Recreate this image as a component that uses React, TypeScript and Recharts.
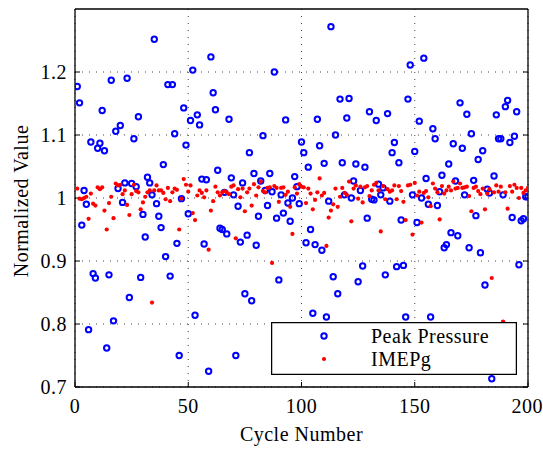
import React from "react";
import { ScatterChart, Scatter, XAxis, YAxis, CartesianGrid, Legend } from "recharts";

const seriesNames = ["Peak Pressure", "IMEPg"];
const xTicks = [0, 50, 100, 150, 200];
const yTicks = [0.7, 0.8, 0.9, 1, 1.1, 1.2];

const peakPressure = [
  1.177, 1.151, 0.957, 1.012, 0.990, 0.791, 1.089, 0.880, 0.873, 1.079,
  1.087, 1.139, 1.075, 0.762, 0.878, 1.187, 0.805, 1.106, 1.015, 1.115,
  0.993, 1.024, 1.190, 0.842, 1.023, 1.094, 1.018, 1.129, 0.874, 0.974,
  0.938, 1.033, 1.024, 1.005, 1.252, 0.991, 0.971, 0.953, 1.053, 0.907,
  1.180, 0.876, 1.180, 1.102, 0.928, 0.750, 0.999, 1.143, 1.084, 0.975,
  1.123, 1.203, 0.814, 1.132, 1.116, 1.030, 0.927, 1.029, 0.725, 1.224,
  1.167, 1.140, 1.044, 0.952, 0.950, 1.009, 0.943, 1.125, 1.032, 1.005,
  0.750, 0.987, 0.930, 1.024, 0.848, 0.941, 1.072, 0.837, 1.039, 0.925,
  0.971, 1.027, 1.099, 1.012, 0.988, 1.039, 1.010, 1.200, 0.968, 0.870,
  1.005, 0.976, 1.124, 0.992, 0.963, 1.000, 1.034, 1.018, 0.991, 1.089,
  1.072, 0.929, 1.049, 0.950, 0.817, 0.926, 1.125, 1.083, 0.917, 1.055,
  0.811, 0.995, 1.272, 0.875, 1.100, 0.848, 1.157, 1.056, 1.005, 1.127,
  1.158, 1.000, 1.027, 1.054, 0.867, 1.012, 0.892, 1.049, 0.968, 1.137,
  0.998, 0.997, 1.123, 1.022, 1.005, 1.016, 0.878, 1.134, 0.995, 1.072,
  1.088, 0.891, 1.056, 0.965, 0.893, 0.811, 1.157, 1.211, 1.005, 1.074,
  0.961, 1.122, 1.000, 1.222, 1.031, 0.990, 0.811, 1.110, 1.094, 0.988,
  1.010, 1.036, 0.921, 0.926, 1.054, 0.945, 1.086, 1.027, 0.940, 1.151,
  1.079, 1.005, 1.133, 0.921, 1.102, 1.028, 0.972, 1.061, 0.913, 1.075,
  0.862, 1.014, 1.008, 0.713, 1.035, 1.132, 1.094, 1.094, 1.005, 1.145,
  1.155, 1.088, 0.969, 1.098, 1.137, 0.894, 0.964, 0.967, 1.002, 1.002,
];

const imepg = [
  1.015, 0.999, 0.998, 1.000, 1.002, 0.967, 1.007, 0.991, 0.988, 1.017,
  1.014, 1.017, 0.980, 0.950, 0.992, 1.002, 0.968, 1.023, 1.020, 1.021,
  1.006, 1.012, 0.989, 0.973, 1.006, 1.021, 1.011, 1.009, 0.982, 0.993,
  1.002, 1.009, 1.012, 0.834, 1.012, 1.020, 1.012, 1.012, 1.008, 0.998,
  1.016, 0.995, 1.009, 1.015, 1.013, 0.950, 0.999, 1.030, 1.021, 1.010,
  1.020, 0.976, 0.965, 1.004, 1.012, 1.008, 1.001, 1.012, 0.918, 0.980,
  0.995, 1.018, 1.009, 1.004, 1.009, 1.011, 1.009, 1.006, 1.018, 1.020,
  0.936, 1.014, 1.001, 1.015, 0.979, 1.009, 1.015, 0.988, 1.022, 1.004,
  1.017, 1.026, 1.011, 1.009, 1.016, 1.017, 0.897, 1.019, 1.016, 0.994,
  1.016, 1.017, 1.005, 1.010, 0.986, 0.943, 1.017, 1.007, 1.022, 1.018,
  1.017, 0.992, 1.015, 1.007, 0.982, 0.997, 1.009, 1.031, 1.004, 1.008,
  0.924, 0.969, 0.980, 0.990, 1.015, 0.986, 1.002, 1.016, 1.008, 1.005,
  1.026, 0.963, 1.015, 1.020, 0.999, 1.018, 0.993, 1.017, 1.019, 1.003,
  1.012, 1.021, 1.024, 1.012, 0.947, 1.019, 0.998, 1.014, 1.010, 1.012,
  1.020, 0.998, 1.019, 1.011, 0.994, 0.965, 1.020, 1.021, 0.942, 1.024,
  1.004, 1.010, 0.961, 1.008, 1.011, 1.001, 0.987, 1.023, 1.015, 1.009,
  0.966, 1.019, 1.007, 1.012, 1.018, 1.012, 1.026, 1.015, 1.016, 1.023,
  1.016, 1.017, 1.018, 1.003, 0.979, 1.016, 1.018, 1.011, 1.006, 1.015,
  0.982, 1.007, 1.014, 0.873, 1.009, 1.020, 1.010, 1.018, 0.804, 1.009,
  0.983, 1.019, 1.010, 1.021, 1.016, 1.000, 1.016, 1.008, 1.012, 1.016,
];

const peakData = peakPressure.map((v, i) => ({ cycle: i + 1, value: v }));
const imepData = imepg.map((v, i) => ({ cycle: i + 1, value: v }));

const FONT = "'Liberation Serif', 'Times New Roman', Times, 'DejaVu Serif', serif";
const BLUE = "#0000ff";
const RED = "#ff0000";

const textStyle = { fontFamily: FONT, fontSize: 20, letterSpacing: "0.5px" };
const tickStyle = { fill: "#000", style: textStyle };

const BlueRing = (p: any) => (
  <circle cx={p.cx} cy={p.cy} r={2.7} fill="none" stroke={BLUE} strokeWidth={2} />
);
const RedDot = (p: any) => <circle cx={p.cx} cy={p.cy} r={2.1} fill={RED} />;

const renderLegend = () => (
  <svg width={246} height={53} style={{ display: "block" }}>
    <rect x={0.6} y={0.6} width={244.8} height={51.8} fill="#fff" stroke="#000" strokeWidth={1.3} />
    <circle cx={53} cy={14} r={2.7} fill="none" stroke={BLUE} strokeWidth={2} />
    <text x={100} y={21} style={textStyle} fill="#000">
      {seriesNames[0]}
    </text>
    <circle cx={53} cy={37} r={2.1} fill={RED} />
    <text x={100} y={43.5} style={textStyle} fill="#000">
      {seriesNames[1]}
    </text>
  </svg>
);

const yLabel = (props: any) => {
  const vb = props.viewBox || { x: 0, y: 9, width: 75, height: 378 };
  const cx = vb.x + 21;
  const cy = vb.y + vb.height / 2 + 3;
  return (
    <text
      x={cx}
      y={cy}
      transform={`rotate(-90 ${cx} ${cy})`}
      textAnchor="middle"
      dominantBaseline="central"
      style={textStyle}
      fill="#000"
    >
      Normalized Value
    </text>
  );
};

const xLabel = (props: any) => {
  const vb = props.viewBox || { x: 75, y: 387, width: 453, height: 62 };
  return (
    <text x={vb.x + vb.width / 2} y={vb.y + 54} textAnchor="middle" style={textStyle} fill="#000">
      Cycle Number
    </text>
  );
};

export default function App() {
  return (
    <div style={{ position: "absolute", left: 0, top: 0, width: 543, height: 449, background: "#fff", fontFamily: FONT }}>
      <ScatterChart width={543} height={449} margin={{ top: 0, right: 0, bottom: 0, left: 0 }}>
        <CartesianGrid
          stroke="#444"
          strokeDasharray="1 6"
          horizontalValues={yTicks}
          verticalValues={xTicks}
        />
        <XAxis
          type="number"
          dataKey="cycle"
          domain={[0, 200]}
          ticks={xTicks}
          height={62}
          tickSize={-5}
          tickMargin={17}
          tick={tickStyle}
          axisLine={{ stroke: "#000", strokeWidth: 1.3 }}
          tickLine={{ stroke: "#000" }}
          allowDataOverflow
          label={xLabel}
        />
        <XAxis
          xAxisId="top"
          orientation="top"
          type="number"
          domain={[0, 200]}
          ticks={xTicks}
          height={9}
          tickSize={-5}
          tickFormatter={() => ""}
          axisLine={{ stroke: "#000", strokeWidth: 1.3 }}
          tickLine={{ stroke: "#000" }}
          allowDataOverflow
        />
        <YAxis
          type="number"
          dataKey="value"
          domain={[0.7, 1.3]}
          ticks={yTicks}
          width={75}
          tickSize={-5}
          tickMargin={13}
          tick={tickStyle}
          axisLine={{ stroke: "#000", strokeWidth: 1.3 }}
          tickLine={{ stroke: "#000" }}
          allowDataOverflow
          label={yLabel}
        />
        <YAxis
          yAxisId="right"
          orientation="right"
          type="number"
          domain={[0.7, 1.3]}
          ticks={yTicks}
          width={15}
          tickSize={-5}
          tickFormatter={() => ""}
          axisLine={{ stroke: "#000", strokeWidth: 1.3 }}
          tickLine={{ stroke: "#000" }}
          allowDataOverflow
        />
        <Scatter name={seriesNames[0]} data={peakData} shape={BlueRing} isAnimationActive={false} />
        <Scatter name={seriesNames[1]} data={imepData} shape={RedDot} isAnimationActive={false} />
        <Legend
          layout="horizontal"
          verticalAlign="middle"
          align="center"
          content={renderLegend}
          wrapperStyle={{ position: "absolute", left: 271, top: 322, width: 246, height: 53 }}
        />
      </ScatterChart>
    </div>
  );
}
